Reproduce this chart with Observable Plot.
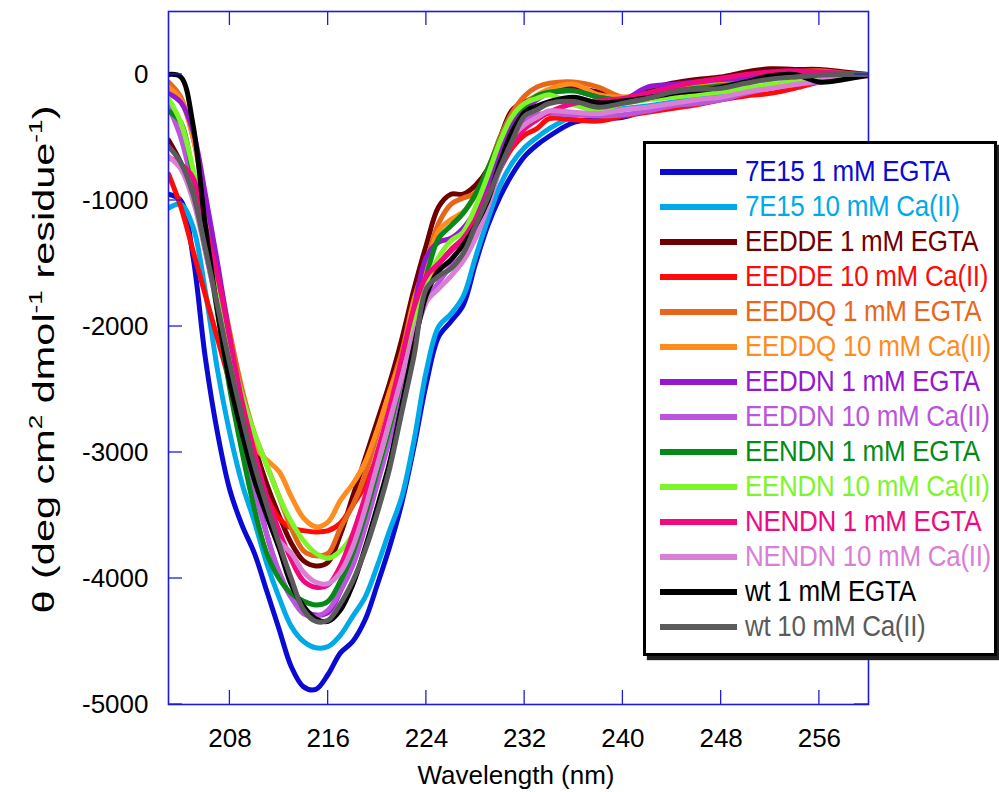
<!DOCTYPE html>
<html><head><meta charset="utf-8">
<script src="https://cdn.jsdelivr.net/npm/d3@7"></script>
<script src="https://cdn.jsdelivr.net/npm/@observablehq/plot@0.6"></script>
<style>
body{margin:0;background:#fff;}
#wrap{position:relative;width:999px;height:792px;font-family:"Liberation Sans",Arial,sans-serif;}
#legend{position:absolute;left:643px;top:141px;width:348px;height:509px;border:3px solid #000;background:#fff;box-shadow:4px 4px 1px #222;}
.row{position:absolute;left:14px;height:35px;display:flex;align-items:center;}
.sw{width:77px;height:6px;margin-right:8px;flex:none;}
.lab{display:inline-block;font-size:26px;white-space:nowrap;letter-spacing:-0.3px;transform:scaleY(1.12);transform-origin:left center;}
</style></head><body><div id="wrap"></div>
<script>
const wavelengths = [203,204,205,206,207,208,209,210,211,212,213,214,215,216,217,218,219,220,221,222,223,224,225,226,227,228,229,230,231,232,233,234,236,238,240,242,244,246,248,250,252,254,256,258,260];

const seriesNames = ["7E15 1 mM EGTA","7E15 10 mM Ca(II)","EEDDE 1 mM EGTA","EEDDE 10 mM Ca(II)","EEDDQ 1 mM EGTA","EEDDQ 10 mM Ca(II)","EEDDN 1 mM EGTA","EEDDN 10 mM Ca(II)","EENDN 1 mM EGTA","EENDN 10 mM Ca(II)","NENDN 1 mM EGTA","NENDN 10 mM Ca(II)","wt 1 mM EGTA","wt 10 mM Ca(II)"];
const seriesColors = ["#0a0ad2","#00aae8","#6e0000","#ff0a0a","#e8661a","#ff8c1e","#9518d0","#bb55dd","#058a18","#7ef52a","#f00a80","#d97fd6","#000000","#5b5b5b"];

const v7E15_EGTA = [-950,-1000,-1450,-2250,-2850,-3300,-3580,-3800,-4100,-4400, -4700,-4860,-4880,-4760,-4590,-4500,-4330,-4050,-3750,-3400, -2950,-2450,-2080,-1960,-1830,-1500,-1200,-970,-790,-650, -560,-490,-380,-355,-340,-280,-230,-200,-170,-140, -100,-60,-30,-5,0];
const v7E15_Ca = [-1060,-1030,-1210,-1720,-2350,-2850,-3250,-3550,-3880,-4150, -4380,-4500,-4550,-4540,-4450,-4300,-4150,-3900,-3620,-3350, -2900,-2350,-2000,-1900,-1760,-1450,-1150,-880,-700,-580, -500,-430,-330,-290,-270,-250,-220,-190,-160,-130, -90,-60,-30,-10,0];
const vEEDDE_EGTA = [-520,-700,-950,-1350,-1800,-2250,-2600,-2950,-3250,-3500, -3720,-3860,-3900,-3870,-3650,-3350,-3050,-2750,-2450,-2100, -1700,-1350,-1050,-950,-950,-880,-750,-500,-280,-220, -170,-130,-110,-140,-190,-120,-70,-40,-20,20, 45,40,40,20,0];
const vEEDDE_Ca = [-790,-1050,-1400,-1750,-2100,-2450,-2800,-3100,-3350,-3520, -3600,-3620,-3630,-3620,-3560,-3420,-3260,-3030,-2750,-2440, -2100,-1720,-1510,-1390,-1300,-1160,-950,-750,-580,-480, -430,-350,-360,-370,-330,-300,-270,-240,-200,-170, -150,-110,-60,-20,-10];
const vEEDDQ_EGTA = [-60,-180,-500,-1000,-1550,-2050,-2500,-2850,-3100,-3350, -3600,-3780,-3820,-3800,-3600,-3420,-3180,-2850,-2520,-2200, -1780,-1480,-1180,-1030,-980,-940,-750,-500,-300,-170, -100,-70,-60,-100,-180,-150,-100,-80,-60,-20, 0,20,30,10,-10];
const vEEDDQ_Ca = [-100,-200,-500,-1000,-1600,-2150,-2650,-2950,-3060,-3150, -3350,-3520,-3590,-3550,-3380,-3250,-3080,-2820,-2520,-2250, -1800,-1520,-1240,-1150,-1090,-960,-780,-560,-330,-230, -165,-115,-77,-160,-180,-160,-120,-100,-70,-40, -20,0,10,0,-10];
const vEEDDN_EGTA = [-150,-220,-450,-950,-1500,-2100,-2700,-3200,-3650,-3950, -4150,-4250,-4290,-4270,-4100,-3850,-3500,-3150,-2750,-2300, -1850,-1450,-1330,-1300,-1220,-1080,-880,-600,-400,-280, -200,-150,-130,-180,-200,-100,-80,-60,-40,-30, 0,20,10,0,0];
const vEEDDN_Ca = [-250,-500,-900,-1400,-1850,-2350,-2850,-3300,-3650,-3950, -4150,-4280,-4300,-4250,-4100,-3900,-3600,-3250,-2900,-2500, -2100,-1800,-1650,-1520,-1430,-1250,-1000,-720,-500,-380, -320,-310,-320,-330,-320,-290,-250,-230,-200,-150, -110,-80,-60,-30,-10];
const vEENDN_EGTA = [-290,-380,-800,-1300,-1900,-2500,-3000,-3450,-3800,-4000, -4120,-4180,-4210,-4180,-4020,-3800,-3500,-3150,-2800,-2400, -2000,-1600,-1300,-1200,-1100,-950,-750,-520,-330,-250, -170,-140,-130,-180,-200,-160,-130,-110,-90,-60, -30,-10,0,0,0];
const vEENDN_Ca = [-190,-380,-750,-1200,-1750,-2150,-2550,-2850,-3100,-3350, -3550,-3700,-3800,-3840,-3780,-3650,-3400,-3100,-2750,-2350, -1950,-1650,-1450,-1320,-1250,-1050,-800,-530,-330,-230, -190,-160,-240,-280,-230,-200,-180,-160,-140,-110, -80,-60,-40,-20,-10];
const vNENDN_EGTA = [-660,-710,-820,-1200,-1600,-2100,-2600,-3000,-3350,-3620, -3850,-4020,-4070,-4050,-3900,-3650,-3350,-3000,-2650,-2250, -1850,-1600,-1500,-1400,-1300,-1150,-950,-750,-550,-430, -360,-300,-230,-210,-190,-150,-100,-60,-30,0, 20,30,20,10,0];
const vNENDN_Ca = [-650,-750,-1000,-1400,-1850,-2300,-2750,-3150,-3500,-3700, -3800,-3950,-4030,-4040,-3950,-3750,-3450,-3100,-2750,-2400, -2050,-1800,-1700,-1600,-1480,-1300,-1050,-750,-500,-400, -340,-290,-300,-310,-280,-260,-230,-200,-180,-140, -110,-80,-50,-20,-10];
const vWT_EGTA = [0,-20,-400,-1200,-1880,-2450,-2850,-3220,-3500,-3760, -4050,-4220,-4320,-4340,-4250,-4050,-3760,-3430,-3080,-2620, -2150,-1750,-1560,-1470,-1350,-1200,-1000,-700,-450,-300, -250,-215,-180,-225,-210,-185,-150,-130,-100,-60, -10,0,-60,-40,-5];
const vWT_Ca = [-570,-700,-950,-1380,-1840,-2300,-2720,-3100,-3420,-3720, -4000,-4250,-4340,-4330,-4200,-4020,-3780,-3480,-3130,-2680, -2230,-1700,-1600,-1540,-1420,-1200,-980,-740,-520,-330, -280,-230,-215,-260,-228,-190,-140,-117,-110,-70, -37,-20,-5,0,0];

const seriesValues = [v7E15_EGTA,v7E15_Ca,vEEDDE_EGTA,vEEDDE_Ca,vEEDDQ_EGTA,vEEDDQ_Ca,vEEDDN_EGTA,vEEDDN_Ca,vEENDN_EGTA,vEENDN_Ca,vNENDN_EGTA,vNENDN_Ca,vWT_EGTA,vWT_Ca];

const xTicks = [208,216,224,232,240,248,256];
const yTicks = [0,-1000,-2000,-3000,-4000,-5000];

const rows = [];
seriesNames.forEach((name, k) => {
  seriesValues[k].forEach((v, i) => rows.push({w: wavelengths[i], v, s: name}));
});

const frameColor = "#1c1cd6";
const font = "Liberation Sans, Arial, sans-serif";

const chart = Plot.plot({
  width: 999, height: 792,
  marginLeft: 168, marginRight: 131, marginTop: 11, marginBottom: 88,
  x: {domain: [203, 260]},
  y: {domain: [-5000, 500]},
  color: {domain: seriesNames, range: seriesColors},
  style: {fontFamily: font, fontSize: "26px", color: "#000", background: "#fff", overflow: "visible"},
  marks: [
    Plot.line(rows, {x: "w", y: "v", z: "s", stroke: "s", strokeWidth: 5, curve: "catmull-rom", clip: true}),
    Plot.frame({stroke: frameColor, strokeWidth: 1.6}),
    Plot.axisX({ticks: xTicks, tickSize: 0, tickPadding: 24, label: null, fontSize: 26, tickFormat: d => String(d)}),
    Plot.axisY({ticks: yTicks, tickSize: 0, tickPadding: 20, label: null, fontSize: 26, tickFormat: d => String(d)})
  ]
});

const xs = chart.scale("x"), ys = chart.scale("y");
const svg = d3.select(chart);
const x0 = xs.apply(203), x1 = xs.apply(260), yb = ys.apply(-5000), yt = ys.apply(500);
const tl = 14;
const g = svg.append("g").attr("stroke", frameColor).attr("stroke-width", 1.3);
xTicks.forEach(t => {
  const px = xs.apply(t);
  g.append("line").attr("x1", px).attr("x2", px).attr("y1", yb).attr("y2", yb - tl);
  g.append("line").attr("x1", px).attr("x2", px).attr("y1", yt).attr("y2", yt + tl);
});
yTicks.forEach(t => {
  const py = ys.apply(t);
  g.append("line").attr("x1", x0).attr("x2", x0 + tl).attr("y1", py).attr("y2", py);
  g.append("line").attr("x1", x1).attr("x2", x1 - tl).attr("y1", py).attr("y2", py);
});

// axis titles
svg.append("text").attr("x", (x0 + x1) / 2 - 2).attr("y", yb + 80)
  .attr("text-anchor", "middle").attr("font-family", font).attr("font-size", 26).attr("fill", "#000")
  .text("Wavelength (nm)");

const yl = svg.append("text")
  .attr("transform", `translate(54,${(yb + yt) / 2 + 2}) rotate(-90)`)
  .attr("text-anchor", "middle").attr("font-family", font).attr("font-size", 30).attr("fill", "#000")
  .attr("textLength", 508).attr("lengthAdjust", "spacingAndGlyphs");
yl.append("tspan").text("θ (deg cm");
yl.append("tspan").attr("font-size", 19).attr("dy", -12).text("2");
yl.append("tspan").attr("dy", 12).text(" dmol");
yl.append("tspan").attr("font-size", 19).attr("dy", -12).text("-1");
yl.append("tspan").attr("dy", 12).text(" residue");
yl.append("tspan").attr("font-size", 19).attr("dy", -12).text("-1");
yl.append("tspan").attr("dy", 12).text(")");

const wrap = document.getElementById("wrap");
wrap.appendChild(chart);

const legend = document.createElement("div");
legend.id = "legend";
seriesNames.forEach((name, i) => {
  const r = document.createElement("div");
  r.className = "row";
  r.style.top = (10 + 35 * i) + "px";
  const sw = document.createElement("div");
  sw.className = "sw";
  sw.style.background = seriesColors[i];
  const lab = document.createElement("span");
  lab.className = "lab";
  lab.style.color = seriesColors[i];
  lab.textContent = name;
  r.appendChild(sw); r.appendChild(lab);
  legend.appendChild(r);
});
wrap.appendChild(legend);
</script></body></html>
